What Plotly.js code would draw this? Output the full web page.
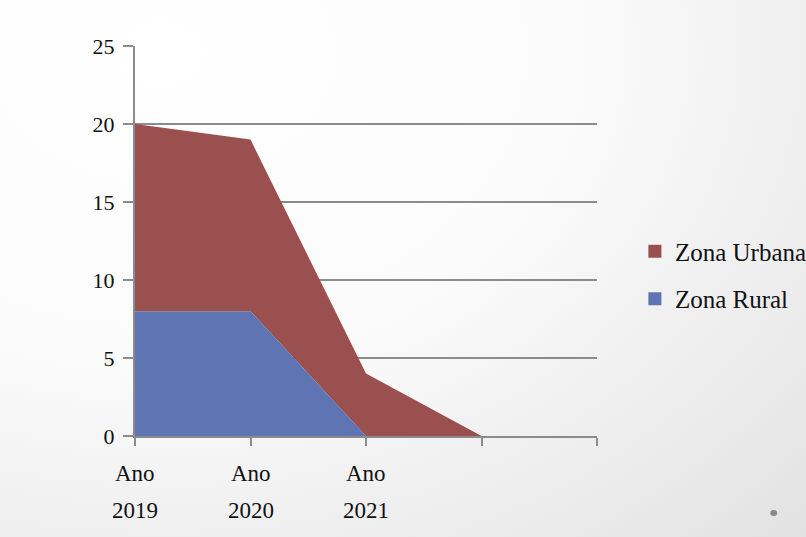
<!DOCTYPE html>
<html>
<head>
<meta charset="utf-8">
<script src="https://cdn.plot.ly/plotly-3.0.1.min.js"></script>
<style>
html,body{margin:0;padding:0;}
body{width:806px;height:537px;overflow:hidden;background:radial-gradient(ellipse at 20% 10%, #ffffff 0%, #fbfbfb 45%, #e2e2e2 100%);}
#chart{width:806px;height:537px;}
</style>
</head>
<body>
<div id="chart"></div>
<script>
// Data
const categories = ["Ano 2019", "Ano 2020", "Ano 2021", "", ""];
const ruralValues = [8, 8, 0, 0];
const urbanValues = [12, 11, 4, 0];
const seriesNames = ["Zona Rural", "Zona Urbana"];
const yTicks = [0, 5, 10, 15, 20, 25];

const ruralColor = "#5f75b3";
const urbanColor = "#9b5050";
const font = "'Liberation Serif', 'DejaVu Serif', serif";

const idx = ruralValues.map((_, i) => i);

const traces = [
  {x: idx, y: ruralValues, name: seriesNames[0], type: "scatter", mode: "none",
   stackgroup: "one", fillcolor: ruralColor, line: {width: 0}, showlegend: false, hoverinfo: "skip"},
  {x: idx, y: urbanValues, name: seriesNames[1], type: "scatter", mode: "none",
   stackgroup: "one", fillcolor: urbanColor, line: {width: 0}, showlegend: false, hoverinfo: "skip"},
  // legend entries (Urbana listed first, as in the reference)
  {x: [null], y: [null], name: seriesNames[1], type: "scatter", mode: "markers",
   marker: {symbol: "square", size: 13, color: urbanColor}, legendgroup: "u"},
  {x: [null], y: [null], name: seriesNames[0], type: "scatter", mode: "markers",
   marker: {symbol: "square", size: 13, color: ruralColor}, legendgroup: "r"}
];

// Two-line category labels as annotations
const annotations = [];
categories.forEach((c, i) => {
  if (!c) return;
  const parts = c.split(" ");
  annotations.push({x: i, xref: "x", y: -0.096, yref: "paper", text: parts[0], showarrow: false,
    font: {family: font, size: 23, color: "#111"}, xanchor: "center", yanchor: "middle"});
  annotations.push({x: i, xref: "x", y: -0.19, yref: "paper", text: parts[1], showarrow: false,
    font: {family: font, size: 23, color: "#111"}, xanchor: "center", yanchor: "middle"});
});

const layout = {
  width: 806, height: 537,
  paper_bgcolor: "rgba(0,0,0,0)", plot_bgcolor: "rgba(0,0,0,0)",
  margin: {l: 135, r: 209, t: 46, b: 101, autoexpand: false},
  font: {family: font, size: 22, color: "#111"},
  xaxis: {range: [0, 4], tickvals: [0, 1, 2, 3, 4], ticktext: ["", "", "", "", ""],
    showgrid: false, zeroline: false, showline: true, linecolor: "#8c8c8c", linewidth: 2,
    ticks: "outside", ticklen: 8, tickwidth: 2, tickcolor: "#8c8c8c", fixedrange: true},
  yaxis: {range: [0, 25], tickvals: yTicks, showgrid: true, gridcolor: "#8c8c8c", gridwidth: 2,
    zeroline: false, showline: true, linecolor: "#8c8c8c", linewidth: 2,
    ticks: "outside", ticklen: 10, tickwidth: 2, tickcolor: "#8c8c8c",
    ticklabelstandoff: 4, tickfont: {family: font, size: 22, color: "#111"}, fixedrange: true},
  legend: {x: 1.082, xanchor: "left", y: 0.413, yanchor: "middle", traceorder: "grouped",
    tracegroupgap: 12, font: {family: font, size: 25, color: "#111"}, bgcolor: "rgba(0,0,0,0)",
    itemwidth: 30},
  showlegend: true,
  annotations: annotations,
  shapes: [{type: "circle", xref: "paper", yref: "paper", x0: 1.375, x1: 1.39, y0: -0.205, y1: -0.19,
    fillcolor: "#8a8a8a", line: {width: 0}}]
};

Plotly.newPlot("chart", traces, layout, {displayModeBar: false, staticPlot: true});
</script>
</body>
</html>
